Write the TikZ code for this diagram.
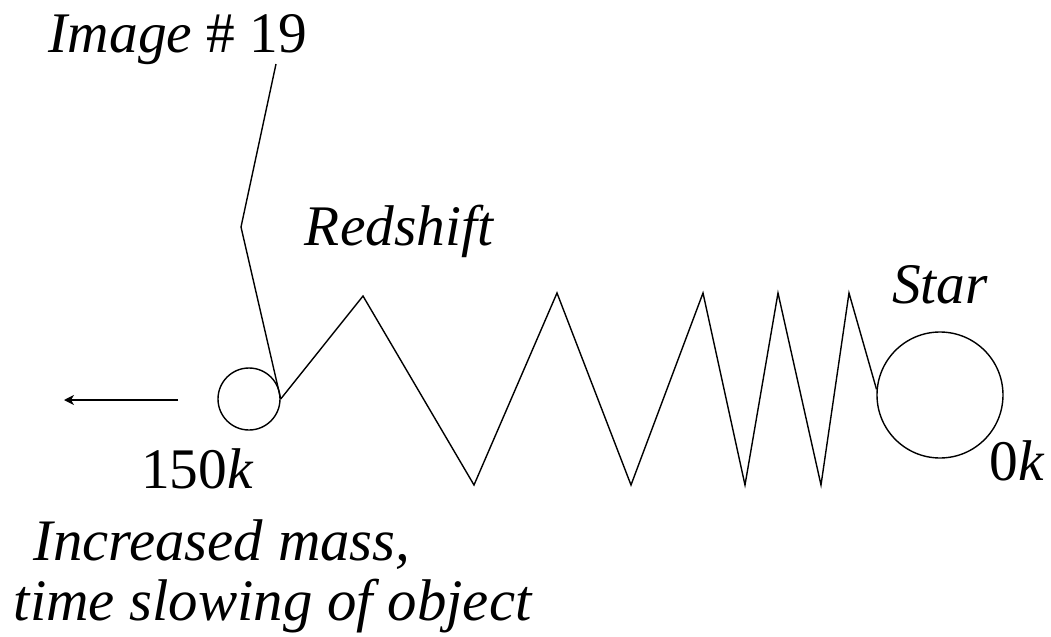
\documentclass[tikz,border=0pt]{standalone}
\usepackage{fontspec}
\setmainfont{Liberation Serif}
\usetikzlibrary{arrows.meta}

\begin{document}
\begin{tikzpicture}[x=0.5pt,y=-0.5pt,line width=0.7pt,
  lbl/.style={inner sep=0pt,anchor=base,font=\fontsize{28.7}{34}\selectfont\itshape},
  note/.style={lbl,anchor=base west,font=\fontsize{29.4}{35}\selectfont\itshape},
  orb/.style={circle,draw,inner sep=0pt}]
\useasboundingbox (0,0) rectangle (1051,637);
% the object and the star
\node[orb,minimum size=31pt] (obj) at (249,399) {};
\node[orb,minimum size=63pt] (star) at (940,395) {};
% labels
\node[lbl] (img) at (178,53) {Image \upshape\# 19};
\node[lbl] (red) at (399,245) {Redshift};
\node[lbl] (starlbl) at (940,303) {Star};
\node[lbl] (zero) at (1017,480) {{\upshape 0}k};
\node[lbl] (far) at (197,488) {{\upshape 150}k};
\node[note] (mass) at (33,560) {Increased mass,};
\node[note] (slow) at (13,620) {time slowing of object};
% leader from the image label
\coordinate (ldtop) at (276,64); \coordinate (ldbend) at (241,227);
\draw (ldtop) -- (ldbend) -- (obj.east);
% direction of motion
\coordinate (mvtail) at (178,400); \coordinate (mvhead) at (64,400);
\draw[-{Stealth[length=5pt,width=5pt,inset=1.5pt]}] (mvtail) -- (mvhead);
% redshifted wave, squeezed towards the star
\draw (obj.east) -- (363,296) -- (474,485) -- (557,293) -- (631,485) -- (703,293)
  -- (745,485) -- (778,293) -- (821,485) -- (849,293) -- (star.175);
\end{tikzpicture}
\end{document}
